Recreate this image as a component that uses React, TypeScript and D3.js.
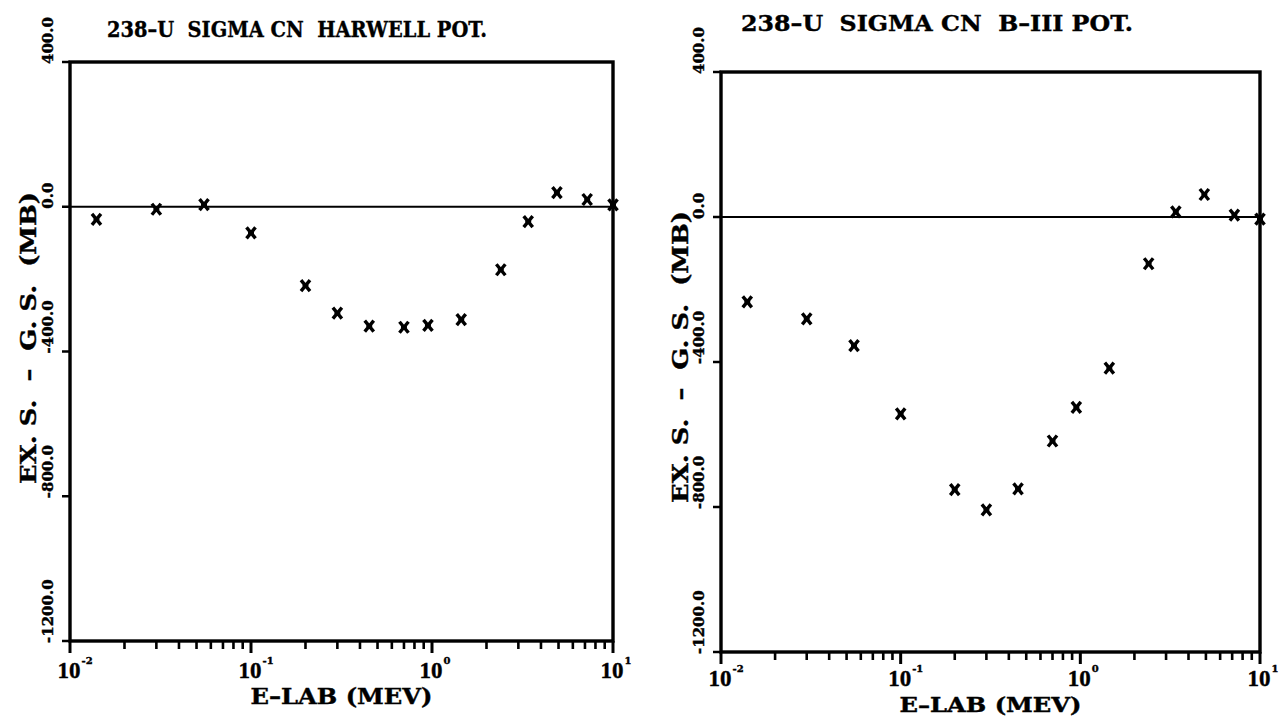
import React from "react";
import * as d3 from "d3";

const energies = [0.014, 0.03, 0.055, 0.1, 0.2, 0.3, 0.45, 0.7, 0.95, 1.45, 2.4, 3.4, 4.9, 7.2, 10];
const harwellValues = [-35, -7, 6, -72, -218, -294, -330, -333, -328, -312, -174, -41, 39, 20, 5];
const b3Values = [-234, -281, -355, -543, -752, -808, -750, -618, -525, -417, -129, 14, 62, 5, -6];
const yTicks = [400, 0, -400, -800, -1200];
const yTickLabels = ["400.0", "0.0", "-400.0", "-800.0", "-1200.0"];
const xDecades = [-2, -1, 0, 1];
const titles = ["238\u2013U  SIGMA CN  HARWELL POT.", "238\u2013U  SIGMA CN  B\u2013III POT."];
const xTitle = "E\u2013LAB (MEV)";
const yTitle = "EX. S.  \u2013  G. S.  (MB)";

const FONT = "'DejaVu Serif', 'Liberation Serif', serif";
const NUMFONT = "'Liberation Serif', 'DejaVu Serif', serif";

type PanelProps = {
  values: number[];
  title: string;
  left: number;
  right: number;
  top: number;
  bottom: number;
  titleX: number;
  titleW: number;
  titleY: number;
  yTitleX: number;
  yTitleCY: number;
  xTitleY: number;
  xTitleSize: number;
  xLabelDy: number;
};

function Panel(p: PanelProps) {
  const x = d3.scaleLog().domain([0.01, 10]).range([p.left, p.right]);
  const y = d3.scaleLinear().domain([-1200, 400]).range([p.bottom, p.top]);
  const minor: number[] = [];
  for (let d = -2; d < 1; d++) {
    for (let m = 2; m <= 9; m++) minor.push(m * Math.pow(10, d));
  }
  const pts = energies.map((e, i) => [x(e), y(p.values[i])] as [number, number]);
  const bold = { stroke: "#000", strokeWidth: 0.4 };
  return (
    <g>
      <text
        x={p.titleX}
        y={p.titleY}
        fontFamily={FONT}
        fontWeight="bold"
        fontSize={23}
        textLength={p.titleW}
        lengthAdjust="spacingAndGlyphs"
        style={{ whiteSpace: "pre" }}
        {...bold}
      >
        {p.title}
      </text>
      <line x1={p.left} x2={p.right} y1={y(0)} y2={y(0)} stroke="#000" strokeWidth={1.8} />
      <rect
        x={p.left}
        y={p.top}
        width={p.right - p.left}
        height={p.bottom - p.top}
        fill="none"
        stroke="#000"
        strokeWidth={3.4}
      />
      {yTicks.map((t, i) => (
        <g key={"yt" + i}>
          <line x1={p.left - 8} x2={p.left} y1={y(t)} y2={y(t)} stroke="#000" strokeWidth={2.5} />
          <text
            transform={`translate(${p.left - 17},${y(t) + 2}) rotate(-90)`}
            fontFamily={FONT}
            fontWeight="bold"
            fontSize={15}
            textAnchor="start"
            {...bold}
          >
            {yTickLabels[i]}
          </text>
        </g>
      ))}
      {xDecades.map((d) => (
        <path
          key={"xd" + d}
          d={`M${x(Math.pow(10, d))},${p.bottom}V${p.bottom + 12}`}
          stroke="#000"
          strokeWidth={3}
        />
      ))}
      {minor.map((v, i) => (
        <path
          key={"mn" + i}
          d={`M${x(v)},${p.bottom}V${p.bottom + 8}`}
          stroke="#000"
          strokeWidth={2.6}
        />
      ))}
      {xDecades.map((d) => (
        <g key={"xl" + d}>
          <text
            x={x(Math.pow(10, d)) - 1}
            y={p.bottom + p.xLabelDy}
            fontFamily={NUMFONT}
            fontWeight="bold"
            fontSize={23}
            textAnchor="middle"
            {...bold}
          >
            10
          </text>
          <text
            x={x(Math.pow(10, d)) + 11.5}
            y={p.bottom + p.xLabelDy - 14}
            fontFamily={FONT}
            fontWeight="bold"
            fontSize={10}
            textAnchor="start"
            {...bold}
          >
            {String(d)}
          </text>
        </g>
      ))}
      <text
        x={(p.left + p.right) / 2}
        y={p.xTitleY}
        fontFamily={FONT}
        fontWeight="bold"
        fontSize={p.xTitleSize}
        textAnchor="middle"
        textLength={182}
        lengthAdjust="spacingAndGlyphs"
        {...bold}
      >
        {xTitle}
      </text>
      <text
        transform={`translate(${p.yTitleX},${p.yTitleCY}) rotate(-90)`}
        fontFamily={FONT}
        fontWeight="bold"
        fontSize={23}
        textAnchor="middle"
        textLength={292}
        lengthAdjust="spacingAndGlyphs"
        style={{ whiteSpace: "pre" }}
        {...bold}
      >
        {yTitle}
      </text>
      {pts.map(([px, py], i) => (
        <path
          key={"pt" + i}
          d={`M${px - 4.5},${py - 5.5}L${px + 4.5},${py + 5.5}M${px - 4.5},${py + 5.5}L${px + 4.5},${py - 5.5}M${px - 3},${py}L${px + 3},${py}`}
          stroke="#000"
          strokeWidth={3.4}
          fill="none"
        />
      ))}
    </g>
  );
}

export default function App() {
  return (
    <svg
      width={1280}
      height={717}
      style={{ position: "absolute", left: 0, top: 0, background: "#fff" }}
    >
      <rect width={1280} height={717} fill="#fff" />
      <Panel
        values={harwellValues}
        title={titles[0]}
        left={70}
        right={613}
        top={62}
        bottom={641}
        titleX={107}
        titleW={380}
        titleY={37}
        yTitleX={36}
        yTitleCY={338}
        xTitleY={704}
        xTitleSize={22}
        xLabelDy={37}
      />
      <Panel
        values={b3Values}
        title={titles[1]}
        left={721}
        right={1260}
        top={72}
        bottom={652}
        titleX={741}
        titleW={392}
        titleY={31}
        yTitleX={688}
        yTitleCY={357}
        xTitleY={712}
        xTitleSize={20}
        xLabelDy={34}
      />
    </svg>
  );
}
